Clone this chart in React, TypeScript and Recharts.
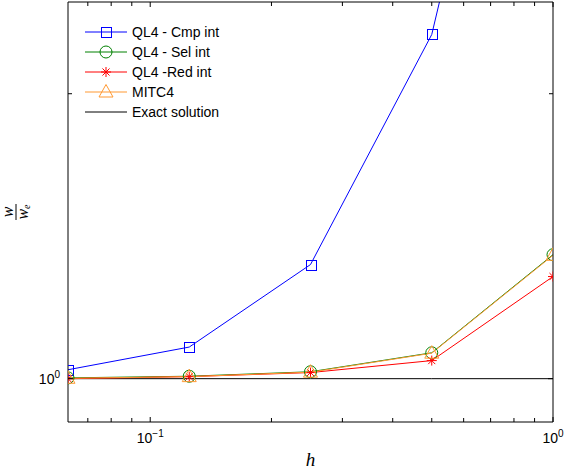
import { LineChart, Line, XAxis, YAxis, Legend } from "recharts";

// mesh size h and normalised deflection w / w_e
const hValues = [0.0625, 0.125, 0.25, 0.5, 1];
const cmpInt = [1.022, 1.08, 1.32, 2.31, 8.0];
const selInt = [1.002, 1.006, 1.017, 1.065, 1.352];
const redInt = [1.0, 1.005, 1.015, 1.045, 1.282];
const mitc4 = [1.001, 1.005, 1.016, 1.064, 1.35];
const exactSol = [1, 1, 1, 1, 1];

const seriesKeys = ["cmp", "sel", "red", "mitc4", "exact"];
const seriesNames = ["QL4 - Cmp int", "QL4 - Sel int", "QL4 -Red int", "MITC4", "Exact solution"];
const seriesColors = ["#0000ff", "#008000", "#ff0000", "#ff9933", "#000000"];
const seriesMarkers = ["square", "circle", "star", "triangle", "none"];

// log axis ticks; only decades get a label (exponent text)
const xTicks = [0.07, 0.08, 0.09, 0.1, 0.2, 0.3, 0.4, 0.5, 0.6, 0.7, 0.8, 0.9, 1];
const xTickExp: Record<string, string> = { "0.1": "\u22121", "1": "0" };
const yTicks = [1, 2];
const yTickExp: Record<string, string> = { "1": "0" };

const data = hValues.map((h, i) => ({
  h,
  cmp: cmpInt[i],
  sel: selInt[i],
  red: redInt[i],
  mitc4: mitc4[i],
  exact: exactSol[i],
}));

const FONT = "'Liberation Sans', Arial, Helvetica, sans-serif";
const SERIF = "'Liberation Serif', 'Times New Roman', serif";
const AXIS_LINE = { stroke: "#000", strokeWidth: 1 };

function Marker({ kind, cx, cy, color }: any) {
  if (cx == null || cy == null) return null;
  switch (kind) {
    case "square":
      return (
        <rect
          x={Math.round(cx) - 4.5}
          y={Math.round(cy) - 4.5}
          width={10}
          height={10}
          fill="none"
          stroke={color}
          strokeWidth={1}
          shapeRendering="crispEdges"
        />
      );
    case "circle":
      return <circle cx={cx} cy={cy} r={6} fill="none" stroke={color} strokeWidth={1} />;
    case "star": {
      const r = 5;
      const d = r * 0.7071;
      return (
        <g stroke={color} strokeWidth={1}>
          <line x1={cx - r} y1={cy} x2={cx + r} y2={cy} />
          <line x1={cx} y1={cy - r} x2={cx} y2={cy + r} />
          <line x1={cx - d} y1={cy - d} x2={cx + d} y2={cy + d} />
          <line x1={cx - d} y1={cy + d} x2={cx + d} y2={cy - d} />
        </g>
      );
    }
    case "triangle":
      return (
        <polygon
          points={`${cx},${cy - 7.5} ${cx - 7},${cy + 5} ${cx + 7},${cy + 5}`}
          fill="none"
          stroke={color}
          strokeWidth={1}
        />
      );
    default:
      return null;
  }
}

const makeDot = (kind: string, color: string) => (props: any) =>
  <Marker key={`${kind}-${props.index}`} kind={kind} cx={props.cx} cy={props.cy} color={color} />;

// inward pointing ticks, MATLAB style
const makeTick = (side: string, labels: Record<string, string> | null) => (props: any) => {
  const x = Number(props.x);
  const y = Number(props.y);
  const v = props.payload.value;
  const exp = labels ? labels[String(v)] : undefined;
  const len = v === 0.1 || v === 1 ? 5 : 4;
  let d = "";
  if (side === "bottom") d = `M${x},${y}V${y - len}`;
  else if (side === "top") d = `M${x},${y}V${y + len}`;
  else if (side === "left") d = `M${x},${y}H${x + len}`;
  else d = `M${x},${y}H${x - len}`;
  let text = null;
  if (exp !== undefined && side === "bottom") {
    text = (
      <text x={x} y={y + 21} textAnchor="middle" fontFamily={FONT} fontSize={14} fill="#000">
        10<tspan dy={-6} fontSize={10}>{exp}</tspan>
      </text>
    );
  } else if (exp !== undefined && side === "left") {
    text = (
      <text x={x - 8} y={y + 5} textAnchor="end" fontFamily={FONT} fontSize={14} fill="#000">
        10<tspan dy={-6} fontSize={10}>{exp}</tspan>
      </text>
    );
  }
  return (
    <g>
      <path d={d} stroke="#000" strokeWidth={1} fill="none" />
      {text}
    </g>
  );
};

function HLabel(props: any) {
  const vb = props.viewBox || { x: 68, y: 422, width: 485, height: 51 };
  return (
    <text x={vb.x + vb.width / 2} y={vb.y + 44} textAnchor="middle" fontFamily={SERIF} fontStyle="italic" fontSize={19} fill="#000">
      h
    </text>
  );
}

function FracLabel(props: any) {
  const vb = props.viewBox || { x: 0, y: 2, width: 68, height: 420 };
  const cx = vb.x + 16;
  const cy = vb.y + vb.height / 2;
  return (
    <g transform={`translate(${cx},${cy}) rotate(-90)`} fontFamily={SERIF} fontStyle="italic" fill="#000">
      <text x={0} y={-3} textAnchor="middle" fontSize={16}>w</text>
      <line x1={-8} x2={8} y1={0} y2={0} stroke="#000" strokeWidth={1} />
      <text x={0} y={12} textAnchor="middle" fontSize={16}>
        w<tspan dy={2} fontSize={10}>e</tspan>
      </text>
    </g>
  );
}

function LegendBox() {
  return (
    <div style={{ fontFamily: FONT, fontSize: 14, color: "#000" }}>
      {seriesNames.map((name, i) => (
        <div key={name} style={{ display: "flex", alignItems: "center", height: 20 }}>
          <svg width={42} height={20} style={{ display: "block" }}>
            <line x1={0} y1={10} x2={42} y2={10} stroke={seriesColors[i]} strokeWidth={1} />
            <Marker kind={seriesMarkers[i]} cx={21} cy={10} color={seriesColors[i]} />
          </svg>
          <span style={{ marginLeft: 5, whiteSpace: "pre" }}>{name}</span>
        </div>
      ))}
    </div>
  );
}

export default function App() {
  return (
    <div style={{ position: "absolute", left: 0, top: 0, background: "#fff" }}>
      <LineChart width={564} height={473} data={data} margin={{ top: 0, right: 0, left: 0, bottom: 0 }}>
        <XAxis
          xAxisId="bottom"
          dataKey="h"
          type="number"
          scale="log"
          domain={[0.0625, 1]}
          allowDataOverflow
          ticks={xTicks}
          interval={0}
          tickSize={0}
          tickMargin={0}
          height={51}
          axisLine={AXIS_LINE}
          tickLine={false}
          tick={makeTick("bottom", xTickExp)}
          label={<HLabel />}
        />
        <XAxis
          xAxisId="top"
          orientation="top"
          dataKey="h"
          type="number"
          scale="log"
          domain={[0.0625, 1]}
          allowDataOverflow
          ticks={xTicks}
          interval={0}
          tickSize={0}
          tickMargin={0}
          height={2}
          axisLine={AXIS_LINE}
          tickLine={false}
          tick={makeTick("top", null)}
        />
        <YAxis
          yAxisId="left"
          type="number"
          scale="log"
          domain={[0.9, 2.5]}
          allowDataOverflow
          ticks={yTicks}
          interval={0}
          tickSize={0}
          tickMargin={0}
          width={68}
          axisLine={AXIS_LINE}
          tickLine={false}
          tick={makeTick("left", yTickExp)}
          label={<FracLabel />}
        />
        <YAxis
          yAxisId="right"
          orientation="right"
          type="number"
          scale="log"
          domain={[0.9, 2.5]}
          allowDataOverflow
          ticks={yTicks}
          interval={0}
          tickSize={0}
          tickMargin={0}
          width={11}
          axisLine={AXIS_LINE}
          tickLine={false}
          tick={makeTick("right", null)}
        />
        <Legend
          layout="vertical"
          align="center"
          verticalAlign="middle"
          content={<LegendBox />}
          wrapperStyle={{ top: 22, left: 85, width: "auto" }}
        />
        <Line
          xAxisId="bottom"
          yAxisId="left"
          dataKey={seriesKeys[4]}
          stroke={seriesColors[4]}
          strokeWidth={1}
          dot={false}
          activeDot={false}
          isAnimationActive={false}
        />
        {seriesKeys.slice(0, 4).map((k, i) => (
          <Line
            key={k}
            xAxisId="bottom"
            yAxisId="left"
            dataKey={k}
            stroke={seriesColors[i]}
            strokeWidth={1}
            dot={makeDot(seriesMarkers[i], seriesColors[i])}
            activeDot={false}
            isAnimationActive={false}
          />
        ))}
      </LineChart>
    </div>
  );
}
